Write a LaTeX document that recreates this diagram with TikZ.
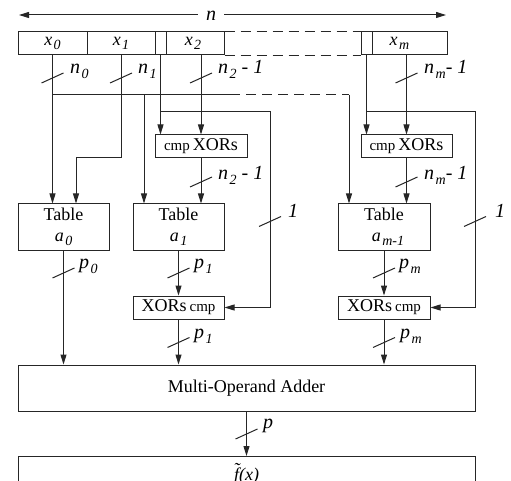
\documentclass[tikz,border=0pt]{standalone}
\usepackage{fontspec}
\setmainfont{Liberation Serif}
\usetikzlibrary{arrows.meta}
\newcommand\lbl[2]{\textit{#1}\kern1.5pt\raisebox{-0.25em}{\fontsize{14}{14}\selectfont\textit{#2}}}
\newcommand\smallcmp{{\fontsize{15}{15}\selectfont cmp}}
\newcommand\busmark[1]{\draw[wire] ([shift={(-11,5)}]#1) -- ([shift={(11,-5)}]#1);}
\begin{document}
\begin{tikzpicture}[x=1pt,y=-1pt,
  wire/.style={line width=1pt, draw=black!85},
  box/.style={draw=black!85, line width=1pt, inner sep=0pt, font=\fontsize{18}{21}\selectfont, align=center},
  arr/.style={-{Triangle[length=10pt,width=6pt]}},
  dashpat/.style={dash pattern=on 10pt off 6pt},
  lab/.style={font=\fontsize{20}{22}\selectfont, inner sep=0pt, anchor=base west}
]
\useasboundingbox (0,0) rectangle (511,481);

% top width arrow
\node[font=\fontsize{20}{22}\selectfont\itshape, inner xsep=8pt, inner ysep=0pt] (nn) at (211,16) {n};
\coordinate (aL) at (19,15);
\coordinate (aR) at (446,15);
\draw[wire,arr] (nn.west |- aL) -- (aL);
\draw[wire,arr] (nn.east |- aR) -- (aR);

% register
\node[box, minimum width=69pt, minimum height=23pt] (reg0) at (52.5,43.5) {\lbl{x}{0}};
\node[box, minimum width=68pt, minimum height=23pt] (reg1) at (121,43.5) {\lbl{x}{1}};
\node[box, minimum width=11pt, minimum height=23pt] (regs) at (160.5,43.5) {};
\node[box, minimum width=58pt, minimum height=23pt] (reg2) at (195,43.5) {\lbl{x}{2}\hspace{4pt}};
\node[box, minimum width=11pt, minimum height=23pt] (regms) at (366.5,43.5) {};
\node[box, minimum width=75pt, minimum height=23pt] (regm) at (409.5,43.5) {\lbl{x}{m}\hspace{20pt}};
\draw[wire,dashpat] (reg2.north east) -- (regms.north west);
\draw[wire,dashpat] (reg2.south east) -- (regms.south west);

% boxes
\node[box, minimum width=92pt, minimum height=23pt] (cmpL) at (201,146.5) {\smallcmp\,XORs};
\node[box, minimum width=91pt, minimum height=23pt] (cmpR) at (406.5,146.5) {\smallcmp\,XORs};
\node[box, minimum width=91pt, minimum height=46pt] (tA0) at (63.5,227) {Table\\\lbl{a}{0}};
\node[box, minimum width=91pt, minimum height=46pt] (tA1) at (178.5,227) {Table\\\lbl{a}{1}};
\node[box, minimum width=92pt, minimum height=46pt] (tAm) at (384,227) {Table\\\hspace{8pt}\lbl{a}{m-1}};
\node[box, minimum width=91pt, minimum height=23pt] (xL) at (178.5,307.5) {XORs\,\smallcmp};
\node[box, minimum width=92pt, minimum height=23pt] (xR) at (384,307.5) {XORs\,\smallcmp};
\node[box, minimum width=457pt, minimum height=46pt] (add) at (246.5,388) {Multi-Operand Adder};
\node[box, minimum width=457pt, minimum height=60pt, anchor=north] (out) at (246.5,456) {};
\node[font=\fontsize{18}{21}\selectfont, inner sep=0pt, anchor=base] (fx) at (246.5,480)
  {\itshape\ooalign{f\cr\hidewidth\raisebox{0.24em}{˜}\hidewidth\cr}(x)};

% wires from register
\draw[wire,arr] (reg0.south) -- (reg0.south |- tA0.north);
\coordinate (j1) at (76,158);
\draw[wire,arr] (reg1.south) |- (j1) -- (j1 |- tA0.north);

\coordinate (b0) at (52.5,95);
\coordinate (b1) at (230,95);
\coordinate (b2) at (349,95);
\coordinate (b3) at (144,95);
\draw[wire] (b0) -- (b1);
\draw[wire,dashpat] (b1) -- (b2);
\draw[wire,arr] (b2) -- (b2 |- tAm.north);
\draw[wire,arr] (b3) -- (b3 |- tA1.north);

\coordinate (r1) at (270,112);
\coordinate (r2) at (475,112);
\draw[wire,arr] (regs.south) -- (regs.south |- cmpL.north);
\draw[wire,arr] (regs.south |- r1) -- (r1) |- (xL.east);
\draw[wire,arr] (cmpL.north |- reg2.south) -- (cmpL.north);
\draw[wire,arr] (regms.south) -- (regms.south |- cmpR.north);
\draw[wire,arr] (regms.south |- r2) -- (r2) |- (xR.east);
\draw[wire,arr] (cmpR.north |- regm.south) -- (cmpR.north);

\draw[wire,arr] (cmpL.south) -- (cmpL.south |- tA1.north);
\draw[wire,arr] (cmpR.south) -- (cmpR.south |- tAm.north);
\draw[wire,arr] (tA0.south) -- (tA0.south |- add.north);
\draw[wire,arr] (tA1.south) -- (xL.north);
\draw[wire,arr] (xL.south) -- (xL.south |- add.north);
\draw[wire,arr] (tAm.south) -- (xR.north);
\draw[wire,arr] (xR.south) -- (xR.south |- add.north);
\draw[wire,arr] (add.south) -- (out.north);

% bus marks
\busmark{52.5,78}
\busmark{121,78}
\busmark{201,78}
\busmark{406.5,78}
\busmark{201,182}
\busmark{406.5,182}
\busmark{270,221.5}
\busmark{475,221.5}
\busmark{63.5,273}
\busmark{178.5,273}
\busmark{384,273}
\busmark{178.5,342.5}
\busmark{384,342.5}
\busmark{246.5,434}

% labels
\node[lab] (ln0) at (70,74) {\lbl{n}{0}};
\node[lab] (ln1) at (138,74) {\lbl{n}{1}};
\node[lab] (ln2) at (218,74) {\lbl{n}{2} - \textit{1}};
\node[lab] (lnm) at (424,74) {\lbl{n}{m}-\ \textit{1}};
\node[lab] (ln2b) at (218,180) {\lbl{n}{2} - \textit{1}};
\node[lab] (lnmb) at (424,180) {\lbl{n}{m}-\ \textit{1}};
\node[lab] (l1a) at (288,217) {\textit{1}};
\node[lab] (l1b) at (495,217) {\textit{1}};
\node[lab] (lp0) at (79,268) {\lbl{p}{0}};
\node[lab] (lp1) at (194,268) {\lbl{p}{1}};
\node[lab] (lpm) at (399,268) {\lbl{p}{m}};
\node[lab] (lp1b) at (194,338) {\lbl{p}{1}};
\node[lab] (lpmb) at (400,338) {\lbl{p}{m}};
\node[lab] (lp) at (263,428) {\textit{p}};
\end{tikzpicture}
\end{document}
